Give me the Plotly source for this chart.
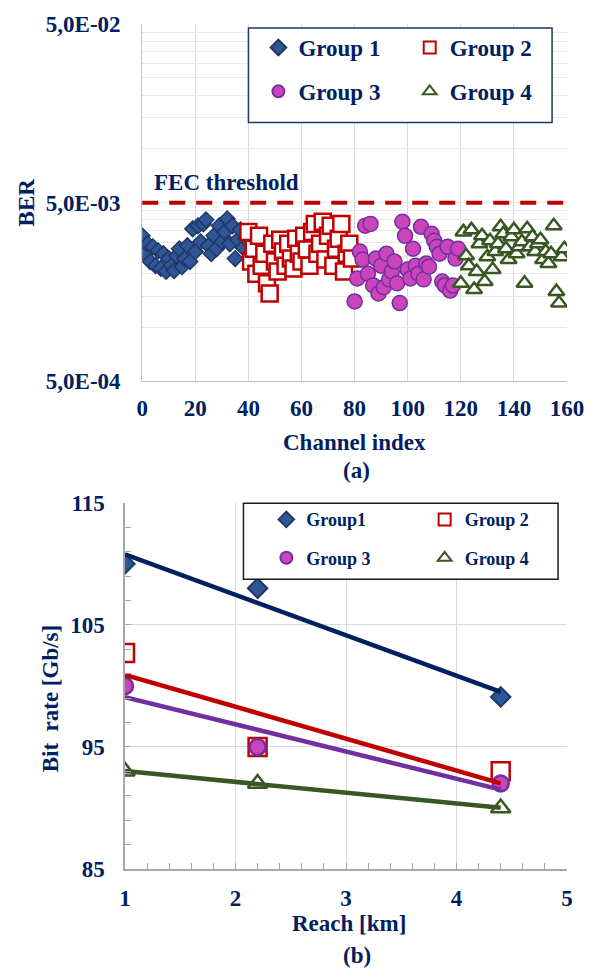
import numpy as np
import plotly.graph_objects as go

# ---------------- (a) BER per channel ----------------
ch_g1 = list(range(0, 40))
ch_g2 = list(range(40, 80))
ch_g3 = list(range(80, 120))
ch_g4 = list(range(120, 160))

# BER values, in units of 1e-3
ber_g1_e3 = [3.26, 2.59, 2.94, 2.34, 2.83, 2.22, 2.69, 2.14, 2.59, 2.06,
             2.43, 2.22, 2.08, 2.52, 2.76, 2.19, 2.43, 2.87, 2.34, 3.57,
             2.66, 3.71, 3.02, 3.80, 4.01, 2.87, 2.59, 3.26, 2.76, 3.71,
             3.02, 3.43, 4.06, 2.94, 3.71, 2.43, 3.10, 3.52, 2.80, 3.14]
ber_g2_e3 = [3.43, 2.34, 2.76, 2.00, 3.26, 2.22, 2.59, 1.77, 1.55, 2.94,
             2.34, 2.06, 3.10, 2.66, 2.22, 2.94, 2.43, 2.14, 3.14, 2.59,
             2.34, 3.26, 2.73, 2.22, 3.43, 3.80, 2.59, 2.94, 3.91, 2.40,
             3.26, 3.71, 2.22, 2.76, 3.14, 3.80, 2.06, 2.59, 2.94, 2.43]
ber_g3_e3 = [1.40, 1.88, 2.66, 2.40, 3.71, 2.00, 3.80, 1.72, 2.43, 1.55,
             2.22, 1.68, 2.59, 1.86, 2.06, 2.34, 1.77, 1.37, 3.91, 3.26,
             2.11, 1.88, 2.76, 2.22, 2.00, 3.66, 1.86, 2.28, 2.19, 3.35,
             3.06, 2.83, 2.59, 1.81, 1.72, 2.83, 1.61, 1.72, 2.43, 2.76]
ber_g4_e3 = [1.77, 3.43, 2.52, 2.22, 3.52, 1.63, 2.06, 2.94, 3.26, 1.81,
             2.49, 3.06, 2.11, 2.66, 2.94, 3.66, 3.35, 2.76, 2.40, 3.22,
             3.52, 2.59, 2.83, 3.02, 1.77, 3.57, 2.83, 3.22, 2.66, 2.94,
             3.10, 2.40, 2.66, 2.28, 2.59, 3.71, 1.59, 1.37, 2.49, 2.76]

FEC_THRESHOLD = 5.0e-3

ber_tick_vals = [5e-4 * k for k in range(1, 11)] + [5e-3 * k for k in range(2, 11)]
ber_major = {5e-4: "5,0E-04", 5e-3: "5,0E-03", 5e-2: "5,0E-02"}
ber_tick_text = [next((t for v, t in ber_major.items() if abs(v - tv) < 1e-9), "")
                 for tv in ber_tick_vals]
channel_ticks = [0, 20, 40, 60, 80, 100, 120, 140, 160]

# ---------------- (b) bit rate vs reach ----------------
reach_km = [1.0, 2.2, 4.4]
rate_g1 = [110.0, 108.0, 99.1]
rate_g2 = [102.7, 95.0, 93.0]
rate_g3 = [100.0, 95.0, 92.0]
rate_g4 = [93.0, 92.0, 90.0]

# ---------------- styling ----------------
NAVY = "#002060"
FONT = "Liberation Serif"
W, H = 596, 970
ML, MR, MT, MB = 125, 27, 19, 101
PW, PH = W - ML - MR, H - MT - MB


def px_x(px):
    return (px - ML) / PW


def px_y(py):
    return (H - MB - py) / PH


def bold(size, color=NAVY):
    return dict(family=FONT, size=size, color=color, weight=700)


G1 = dict(fill="#2F5597", edge="#1F3864", line="#002060")
G2 = dict(edge="#C00000", line="#C00000")
G3 = dict(fill="#CC44BB", edge="#7030A0", line="#7030A0")
G4 = dict(edge="#385723", line="#385723")

fig = go.Figure()

# panel (a) markers
fig.add_trace(go.Scatter(x=ch_g1, y=np.array(ber_g1_e3) * 1e-3, mode="markers", name="Group 1",
                         legend="legend", legendgroup="a1",
                         marker=dict(symbol="diamond", size=12, color=G1["fill"],
                                     line=dict(color=G1["edge"], width=1.5)),
                         xaxis="x", yaxis="y"))
fig.add_trace(go.Scatter(x=ch_g2, y=np.array(ber_g2_e3) * 1e-3, mode="markers", name="Group 2",
                         legend="legend2", legendgroup="a2",
                         marker=dict(symbol="square", size=16, color="white",
                                     line=dict(color=G2["edge"], width=2.5)),
                         xaxis="x", yaxis="y"))
fig.add_trace(go.Scatter(x=ch_g3, y=np.array(ber_g3_e3) * 1e-3, mode="markers", name="Group 3",
                         legend="legend", legendgroup="a3",
                         marker=dict(symbol="circle", size=15, color=G3["fill"],
                                     line=dict(color=G3["edge"], width=1.5)),
                         xaxis="x", yaxis="y"))
fig.add_trace(go.Scatter(x=ch_g4, y=np.array(ber_g4_e3) * 1e-3, mode="markers", name="Group 4",
                         legend="legend2", legendgroup="a4",
                         marker=dict(symbol="triangle-up", size=14, color="white",
                                     line=dict(color=G4["edge"], width=2.5)),
                         xaxis="x", yaxis="y"))

# panel (b) markers
fig.add_trace(go.Scatter(x=reach_km, y=rate_g1, mode="markers", name="Group1",
                         legend="legend3", legendgroup="b1",
                         marker=dict(symbol="diamond", size=15, color=G1["fill"],
                                     line=dict(color=G1["edge"], width=2)),
                         xaxis="x2", yaxis="y2"))
fig.add_trace(go.Scatter(x=reach_km, y=rate_g2, mode="markers", name="Group 2",
                         legend="legend4", legendgroup="b2",
                         marker=dict(symbol="square", size=18, color="white",
                                     line=dict(color=G2["edge"], width=2.5)),
                         xaxis="x2", yaxis="y2"))
fig.add_trace(go.Scatter(x=reach_km, y=rate_g3, mode="markers", name="Group 3",
                         legend="legend3", legendgroup="b3",
                         marker=dict(symbol="circle", size=16, color=G3["fill"],
                                     line=dict(color=G3["edge"], width=2.5)),
                         xaxis="x2", yaxis="y2"))
fig.add_trace(go.Scatter(x=reach_km, y=rate_g4, mode="markers", name="Group 4",
                         legend="legend4", legendgroup="b4",
                         marker=dict(symbol="triangle-up", size=17, color="white",
                                     line=dict(color=G4["edge"], width=2.5)),
                         xaxis="x2", yaxis="y2"))

# linear trendlines over the measured reach span
reach_span = np.array([min(reach_km), max(reach_km)])
for rates, style in [(rate_g1, G1), (rate_g2, G2), (rate_g3, G3), (rate_g4, G4)]:
    slope, icpt = np.polyfit(reach_km, rates, 1)
    fig.add_trace(go.Scatter(x=reach_span, y=slope * reach_span + icpt, mode="lines",
                             line=dict(color=style["line"], width=4.5),
                             showlegend=False, hoverinfo="skip",
                             xaxis="x2", yaxis="y2"))

# FEC threshold
fig.add_shape(type="line", xref="x domain", x0=0, x1=1, yref="y",
              y0=FEC_THRESHOLD, y1=FEC_THRESHOLD,
              line=dict(color="#C00000", width=4, dash="16px,11px"))

# legend frames
fig.add_shape(type="rect", xref="paper", yref="paper", layer="above",
              x0=px_x(249), x1=px_x(554), y0=px_y(118), y1=px_y(23),
              line=dict(color="#1F3864", width=1.5), fillcolor="white")
fig.add_shape(type="rect", xref="paper", yref="paper", layer="above",
              x0=px_x(244), x1=px_x(560), y0=px_y(577.5), y1=px_y(501),
              line=dict(color="#1A1A1A", width=1.5), fillcolor="white")

annotations = [
    dict(text="FEC threshold", xref="x", x=3.6, xanchor="left",
         yref="paper", y=px_y(178), yanchor="middle", font=bold(23)),
    dict(text="BER", xref="paper", x=px_x(27), yref="paper", y=px_y(198),
         textangle=-90, font=bold(23)),
    dict(text="Channel index", xref="paper", x=px_x(356), yref="paper", y=px_y(440),
         font=bold(23)),
    dict(text="(a)", xref="paper", x=px_x(358), yref="paper", y=px_y(468),
         font=bold(23)),
    dict(text="Bit\u00a0 rate [Gb/s]", xref="paper", x=px_x(50), yref="paper", y=px_y(697),
         textangle=-90, font=bold(23)),
    dict(text="Reach [km]", xref="paper", x=px_x(350), yref="paper", y=px_y(924),
         font=bold(23)),
    dict(text="(b)", xref="paper", x=px_x(358), yref="paper", y=px_y(956),
         font=bold(23)),
]
for a in annotations:
    a.setdefault("showarrow", False)
    a.setdefault("xanchor", "center")
    a.setdefault("yanchor", "middle")


def col_legend(x_px, top_px, size, gap):
    return dict(x=px_x(x_px), xanchor="left", y=px_y(top_px), yanchor="top",
                orientation="v", bgcolor="rgba(0,0,0,0)", borderwidth=0,
                font=bold(size), itemsizing="constant", tracegroupgap=gap)


fig.update_layout(
    width=W, height=H,
    margin=dict(l=ML, r=MR, t=MT, b=MB),
    paper_bgcolor="white", plot_bgcolor="white",
    font=dict(family=FONT, color=NAVY),
    annotations=annotations,
    legend=col_legend(259, 21, 23, 11),
    legend2=col_legend(411, 21, 23, 11),
    legend3=col_legend(267, 499, 18, 12),
    legend4=col_legend(426, 499, 18, 12),
    xaxis=dict(domain=[px_x(142.3), 1], anchor="y", range=[0, 160],
               tickvals=channel_ticks, showgrid=True, gridcolor="#D9D9D9", gridwidth=1,
               showline=True, linecolor="#BFBFBF", linewidth=1, zeroline=False,
               ticks="", tickfont=bold(23), ticklabelstandoff=6),
    yaxis=dict(domain=[px_y(378.4), 1], anchor="x", type="log",
               range=[np.log10(5e-4), np.log10(5e-2)],
               tickvals=ber_tick_vals, ticktext=ber_tick_text,
               showgrid=True, gridcolor="#E8E8E8", gridwidth=1,
               showline=True, linecolor="#BFBFBF", linewidth=1, zeroline=False,
               ticks="", tickfont=bold(23), ticklabelstandoff=16),
    xaxis2=dict(domain=[0, 1], anchor="y2", range=[1, 5], dtick=1, tick0=1,
                showgrid=True, gridcolor="#D9D9D9", gridwidth=1,
                showline=True, linecolor="#A6A6A6", linewidth=1.5, zeroline=False,
                ticks="inside", ticklen=6, tickcolor="#A6A6A6", tickwidth=1,
                tickfont=bold(23), ticklabelstandoff=8,
                minor=dict(dtick=0.2, tick0=1, ticks="inside", ticklen=6,
                           tickcolor="#A6A6A6", tickwidth=1, showgrid=False)),
    yaxis2=dict(domain=[0, px_y(500.7)], anchor="x2", range=[85, 115], dtick=10, tick0=85,
                showgrid=True, gridcolor="#D9D9D9", gridwidth=1,
                showline=True, linecolor="#A6A6A6", linewidth=1.5, zeroline=False,
                ticks="inside", ticklen=6, tickcolor="#A6A6A6", tickwidth=1,
                tickfont=bold(23), ticklabelstandoff=14,
                minor=dict(dtick=2, tick0=85, ticks="inside", ticklen=6,
                           tickcolor="#A6A6A6", tickwidth=1, showgrid=False)),
)

fig.write_html("out.html")
